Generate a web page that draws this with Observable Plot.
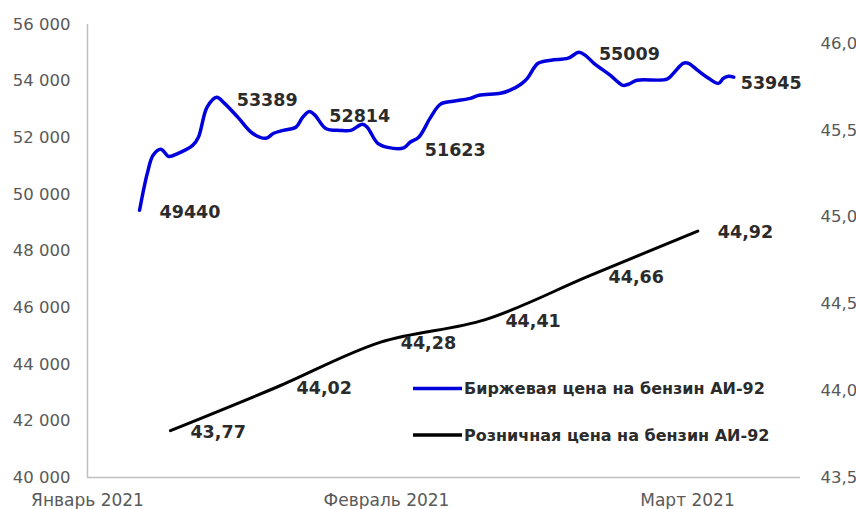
<!DOCTYPE html>
<html>
<head>
<meta charset="utf-8">
<script src="https://cdn.jsdelivr.net/npm/d3@7"></script>
<script src="https://cdn.jsdelivr.net/npm/@observablehq/plot@0.6"></script>
<style>
  html, body { margin: 0; padding: 0; background: #fff; }
  #chart { width: 856px; height: 509px; }
</style>
</head>
<body>
<div id="chart"></div>
<script>
// ---- data (x = days since 1 Jan 2021) ----
const monthTicks = [0, 31, 59];
const monthLabels = ["Январь 2021", "Февраль 2021", "Март 2021"];

const leftTicks = [40000, 42000, 44000, 46000, 48000, 50000, 52000, 54000, 56000];
const rightTicks = [43.5, 44.0, 44.5, 45.0, 45.5, 46.0];

const seriesNames = ["Биржевая цена на бензин АИ-92", "Розничная цена на бензин АИ-92"];
const seriesColors = ["#0000dd", "#000000"];

const exchangeDays = [5.4, 6.2, 6.8, 7.6, 7.9, 8.4, 9.4, 10.9, 11.5, 12.4, 13.4, 14.1, 15.6, 17.1, 18.5,
  19.3, 20.3, 21.6, 22.3, 23.0, 23.6, 24.7, 26.2, 27.3, 28.5, 29.0, 30.1, 31.1, 32.6, 33.2, 34.0,
  35.1, 36.0, 37.2, 38.8, 39.6, 41.6, 42.5, 43.5, 44.1, 45.1, 46.3, 47.9, 48.9, 49.5, 50.3, 51.8,
  53.0, 53.5, 54.3, 57.1, 57.7, 58.6, 59.1, 60.0, 60.9, 62.0, 62.5, 63.0, 63.5];
const exchangePrices = [49440, 50740, 51380, 51590, 51520, 51340, 51450, 51730, 52020, 53080, 53430, 53250, 52720, 52160, 51980,
  52160, 52260, 52370, 52720, 52930, 52790, 52330, 52260, 52260, 52480, 52370, 51800, 51660, 51640, 51840, 52020,
  52720, 53180, 53290, 53390, 53500, 53570, 53680, 53890, 54100, 54630, 54740, 54810, 55020, 54910, 54630, 54210,
  53850, 53890, 54030, 54070, 54280, 54630, 54630, 54380, 54140, 53920, 54100, 54170, 54140];

const exchangeLabelDays = [5.4, 13.4, 23.0, 32.7, 48.9];
const exchangeLabelValues = [49440, 53389, 52814, 51623, 55009];
const exchangeLastDay = 63.5;
const exchangeLastValue = 53945;

const retailDays = [8.6, 19.6, 30.4, 40.2, 49.8, 60.0];
const retailPrices = [43.77, 44.02, 44.28, 44.41, 44.66, 44.92];

// ---- scales ----
const leftDomain = [40000, 56000];
const rightDomain = [43.5, 46.11];
const toLeft = r => leftDomain[0] + (r - rightDomain[0]) / (rightDomain[1] - rightDomain[0]) * (leftDomain[1] - leftDomain[0]);

const exchange = exchangeDays.map((d, i) => ({day: d, value: exchangePrices[i]}));
const retail = retailDays.map((d, i) => ({day: d, value: toLeft(retailPrices[i]), raw: retailPrices[i]}));
const exchangeLabels = exchangeLabelDays.map((d, i) => ({day: d, value: exchangeLabelValues[i]}));

const fmtThousands = d => String(d).replace(/\B(?=(\d{3})+(?!\d))/g, " ");
const fmtComma = (d, n) => d.toFixed(n).replace(".", ",");

const FONT = "DejaVu Sans";
const LABEL_FILL = "#2b2b2b";

const plot = Plot.plot({
  width: 856,
  height: 509,
  marginLeft: 87,
  marginRight: 56,
  marginTop: 24,
  marginBottom: 32,
  style: {fontFamily: FONT, background: "#fff"},
  x: {type: "linear", domain: [0, 31, 59, 70], range: [87, 386, 687, 800]},
  y: {domain: leftDomain},
  marks: [
    Plot.ruleX([0], {stroke: "#bfbfbf", strokeWidth: 1.5}),
    Plot.ruleY([40000], {stroke: "#bfbfbf", strokeWidth: 1.5}),
    Plot.axisY({ticks: leftTicks, tickSize: 0, tickPadding: 17, tickFormat: fmtThousands,
      fontSize: 16.5, fill: "#595959", label: null}),
    Plot.axisY({anchor: "right", ticks: rightTicks.map(toLeft), tickSize: 0, tickPadding: 20,
      tickFormat: d => fmtComma(rightTicks[rightTicks.map(toLeft).findIndex(t => Math.abs(t - d) < 1e-6)], 1),
      fontSize: 16.5, fill: "#595959", label: null}),
    Plot.axisX({ticks: monthTicks, tickSize: 0, tickPadding: 16,
      tickFormat: d => monthLabels[monthTicks.indexOf(d)],
      fontSize: 17, fill: "#595959", label: null}),
    Plot.line(exchange, {x: "day", y: "value", stroke: seriesColors[0], strokeWidth: 3.5, curve: "catmull-rom"}),
    Plot.line(retail, {x: "day", y: "value", stroke: seriesColors[1], strokeWidth: 3, curve: "catmull-rom"}),
    Plot.text(exchangeLabels, {x: "day", y: "value", text: d => String(d.value), textAnchor: "start",
      dx: 20, dy: 2, fontSize: 17.5, fontWeight: "bold", fill: LABEL_FILL}),
    Plot.text([{day: exchangeLastDay, value: exchangeLastValue}], {x: "day", y: "value", text: d => String(d.value),
      textAnchor: "start", dx: 7, dy: 1, fontSize: 17.5, fontWeight: "bold", fill: LABEL_FILL}),
    Plot.text(retail, {x: "day", y: "value", text: d => fmtComma(d.raw, 2), textAnchor: "start",
      dx: 20, dy: 1.5, fontSize: 17.5, fontWeight: "bold", fill: LABEL_FILL})
  ]
});

// legend inside the plot area
const svg = d3.select(plot);
const legend = svg.append("g")
  .attr("font-family", FONT)
  .attr("font-size", 16)
  .attr("font-weight", "bold")
  .attr("text-anchor", "start")
  .attr("fill", LABEL_FILL);
const legendY = [388.5, 435];
seriesNames.forEach((name, i) => {
  legend.append("line")
    .attr("x1", 413).attr("x2", 462)
    .attr("y1", legendY[i]).attr("y2", legendY[i])
    .attr("stroke", seriesColors[i]).attr("stroke-width", 3.5);
  legend.append("text")
    .attr("x", 464).attr("y", legendY[i]).attr("dy", "0.36em")
    .attr("text-anchor", "start")
    .text(name);
});

document.getElementById("chart").appendChild(plot);
</script>
</body>
</html>
